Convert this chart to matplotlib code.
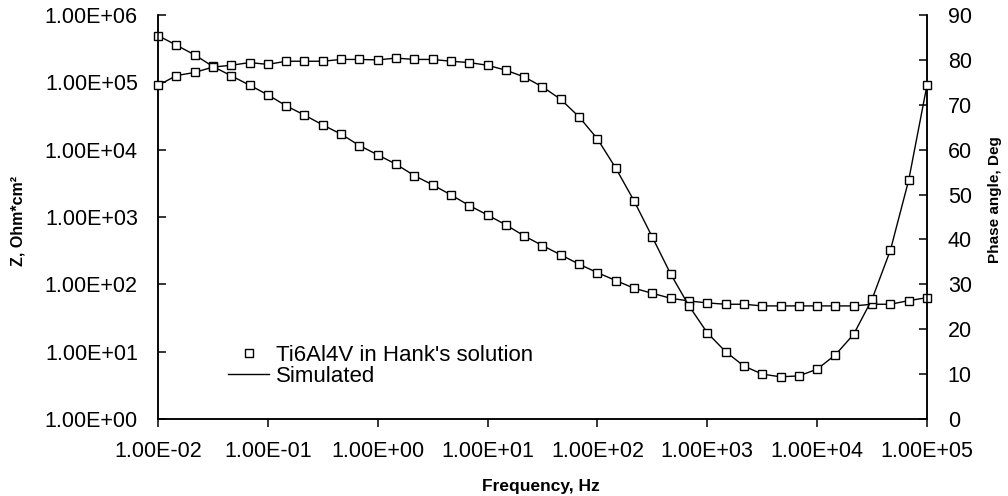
import matplotlib
matplotlib.use("Agg")
import matplotlib.pyplot as plt
from matplotlib.lines import Line2D

plt.rcParams['font.family'] = ['Liberation Sans', 'DejaVu Sans']

# Frequency (Hz), 6 points per decade
freq = [0.01, 0.01468, 0.02154, 0.03162, 0.04642, 0.06813,
        0.1, 0.1468, 0.2154, 0.3162, 0.4642, 0.6813,
        1.0, 1.468, 2.154, 3.162, 4.642, 6.813,
        10.0, 14.68, 21.54, 31.62, 46.42, 68.13,
        100.0, 146.8, 215.4, 316.2, 464.2, 681.3,
        1000.0, 1468.0, 2154.0, 3162.0, 4642.0, 6813.0,
        10000.0, 14680.0, 21540.0, 31620.0, 46420.0, 68130.0,
        100000.0]

# |Z| (Ohm*cm^2)
z_mod = [495000, 357000, 256000, 172000, 125000, 90800,
         65200, 44800, 32600, 23300, 17000, 11500,
         8380, 6080, 4120, 3000, 2130, 1480,
         1070, 764, 524, 376, 274, 199,
         149, 114, 87.5, 73.6, 62.1, 56.6,
         53.0, 50.6, 50.6, 47.8, 47.8, 47.8,
         47.8, 47.8, 47.8, 50.6, 50.6, 57.3,
         63.4]

# Phase angle (deg)
phase = [74.3, 76.5, 77.2, 78.4, 78.8, 79.4,
         79.0, 79.7, 79.7, 79.7, 80.1, 80.1,
         80.0, 80.4, 80.1, 80.1, 79.7, 79.4,
         78.8, 77.7, 76.2, 74.0, 71.2, 67.3,
         62.4, 55.9, 48.6, 40.5, 32.3, 25.2,
         19.2, 15.0, 11.8, 10.0, 9.4, 9.6,
         11.1, 14.3, 18.9, 26.7, 37.6, 53.2,
         74.4]

x_ticks = [1e-2, 1e-1, 1e0, 1e1, 1e2, 1e3, 1e4, 1e5]
x_labels = ['1.00E-02', '1.00E-01', '1.00E+00', '1.00E+01',
            '1.00E+02', '1.00E+03', '1.00E+04', '1.00E+05']
y_ticks = [1e0, 1e1, 1e2, 1e3, 1e4, 1e5, 1e6]
y_labels = ['1.00E+00', '1.00E+01', '1.00E+02', '1.00E+03',
            '1.00E+04', '1.00E+05', '1.00E+06']
p_ticks = [0, 10, 20, 30, 40, 50, 60, 70, 80, 90]
p_labels = [str(v) for v in p_ticks]

fig = plt.figure(figsize=(10.08, 4.96), dpi=100)
ax = fig.add_axes([158/1008, 1 - 419/496, (927-158)/1008, (419-15)/496])
ax2 = ax.twinx()

mk = dict(marker='s', ms=5.3, mfc='white', mec='black', mew=1.0,
          linestyle='none', clip_on=False, zorder=5)
ln = dict(color='black', lw=1.0, clip_on=False, zorder=4)

ax.plot(freq, z_mod, **ln)
ax.plot(freq, z_mod, **mk)
ax2.plot(freq, phase, **ln)
ax2.plot(freq, phase, **mk)

ax.set_xscale('log')
ax.set_yscale('log')
ax.set_xlim(1e-2, 1e5)
ax.set_ylim(1e0, 1e6)
ax2.set_ylim(0, 90)

ax.set_xticks(x_ticks)
ax.set_xticklabels(x_labels)
ax.set_yticks(y_ticks)
ax.set_yticklabels(y_labels)
ax.xaxis.set_minor_locator(matplotlib.ticker.NullLocator())
ax.yaxis.set_minor_locator(matplotlib.ticker.NullLocator())
ax2.set_yticks(p_ticks)
ax2.set_yticklabels(p_labels)

for a in (ax, ax2):
    for s in a.spines.values():
        s.set_linewidth(1.1)
ax.spines['top'].set_visible(False)
ax2.spines['top'].set_visible(False)

ax.tick_params(axis='x', direction='out', length=6, width=1.1, labelsize=15.5, pad=10)
ax.tick_params(axis='y', direction='in', length=6, width=1.1, labelsize=15.5, pad=14.5)
ax2.tick_params(axis='y', direction='in', length=6, width=1.1, labelsize=15.5, pad=15)

fig.text(18/1008, 1 - 221/496, 'Z, Ohm*cm²', rotation=90, ha='center', va='center',
         fontsize=11.5, fontweight='bold')
fig.text(995/1008, 1 - 200/496, 'Phase angle, Deg', rotation=90, ha='center', va='center',
         fontsize=11, fontweight='bold')
fig.text(541/1008, 1 - 486/496, 'Frequency, Hz', ha='center', va='center',
         fontsize=12.5, fontweight='bold')

handles = [Line2D([], [], marker='s', ms=5.3, mfc='white', mec='black', mew=1.0, linestyle='none'),
           Line2D([], [], color='black', lw=1.0)]
leg = ax.legend(handles, ["Ti6Al4V in Hank's solution", 'Simulated'],
                loc='upper left', bbox_to_anchor=(228/1008, 1 - 345/496),
                bbox_transform=fig.transFigure, frameon=False, fontsize=16,
                handlelength=1.85, handletextpad=0.3, labelspacing=-0.02,
                borderpad=0, borderaxespad=0)

fig.savefig('out.png', dpi=100)
